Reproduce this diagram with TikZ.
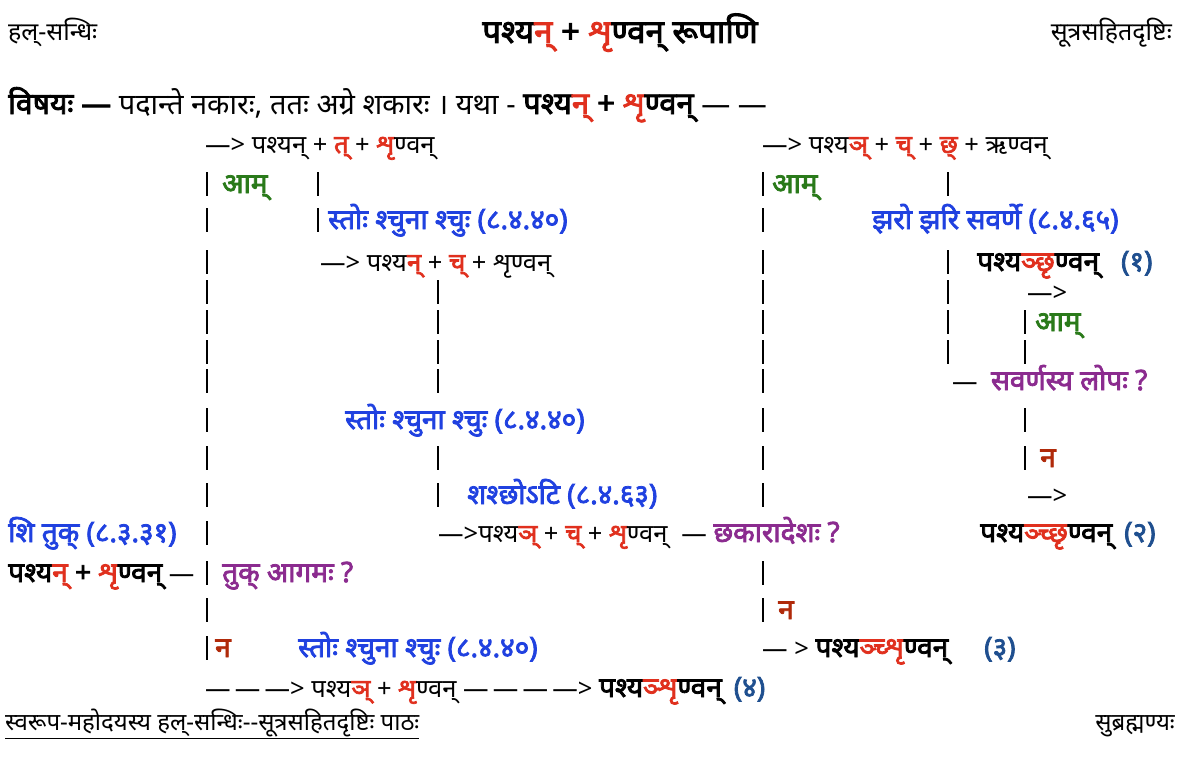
\documentclass[tikz,border=0pt]{standalone}
\usepackage{fontspec}
\setmainfont{Noto Sans}[Script=Devanagari, BoldFont={Noto Sans}, BoldFeatures={FakeBold=2.8}]
\definecolor{cR}{HTML}{E0301E}
\definecolor{cB}{HTML}{2041E0}
\definecolor{cG}{HTML}{2A7A1A}
\definecolor{cP}{HTML}{8B2B8F}
\definecolor{cN}{HTML}{1F4F8F}
\definecolor{cD}{HTML}{B02A0A}
\newcommand\bz{\fontsize{28}{32}\selectfont\bfseries}
\newcommand\rd[1]{\textcolor{cR}{\bfseries #1}}
\newcommand\blu[1]{{\bz\color{cB}#1}}
\newcommand\grn[1]{{\bz\color{cG}#1}}
\newcommand\pur[1]{{\bz\color{cP}#1}}
\newcommand\nmb[1]{{\bz\color{cN}#1}}
\newcommand\dna{{\bz\color{cD}न}}
\tikzset{
  txt/.style={anchor=base west, inner sep=0pt, font=\fontsize{25.5}{30}\selectfont},
  txtr/.style={anchor=base east, inner sep=0pt, font=\fontsize{25}{30}\selectfont},
  bar/.style={line width=1.2pt, black}
}
\begin{document}
\begin{tikzpicture}[x=1pt,y=-1pt]
\useasboundingbox (0,0) rectangle (1182,757);
% header
\node[anchor=base west, inner sep=0pt, font=\fontsize{25}{30}\selectfont] (h1) at (8,41) {हल्-सन्धिः};
\node[anchor=base, inner sep=0pt, font=\fontsize{33}{38}\selectfont\bfseries] (title) at (620,43) {पश्य\textcolor{cR}{न्} + \textcolor{cR}{शृ}ण्वन् रूपाणि};
\node[txtr] (h2) at (1172,41) {सूत्रसहितदृष्टिः};
% row 1
\node[anchor=base west, inner sep=0pt, font=\fontsize{29}{34}\selectfont] (r1) at (8,114) {{\fontsize{30}{34}\selectfont\bfseries विषयः —} पदान्ते नकारः, ततः अग्रे शकारः । यथा - {\fontsize{31}{34}\selectfont\bfseries पश्य\textcolor{cR}{न्} + \textcolor{cR}{शृ}ण्वन्} — —};
% row 2
\node[txt] (a1) at (205,153) {—> पश्यन् + \rd{त्} + \rd{शृ}ण्वन्};
\node[txt] (b1) at (762,153) {—> पश्य\rd{ञ्} + \rd{च्} + \rd{छ्} + ऋण्वन्};
% row 3
\node[txt] (am1) at (222,193) {\grn{आम्}};
\node[txt] (am2) at (772,193) {\grn{आम्}};
% row 4
\node[txt] (s1) at (328,229) {\blu{स्तोः श्चुना श्चुः (८.४.४०)}};
\node[txt] (s2) at (872,229) {\blu{झरो झरि सवर्णे (८.४.६५)}};
% row 5
\node[txt] (a2) at (320,271) {—> पश्य\rd{न्} + \rd{च्} + शृण्वन्};
\node[txt] (f1) at (977,271) {{\bz पश्य\textcolor{cR}{ञ्छृ}ण्वन्}\hspace{22pt}\nmb{(१)}};
% row 6
\node[txt] (ar1) at (1027,301) {—>};
% row 7
\node[txt] (am3) at (1035,331) {\grn{आम्}};
% row 9
\node[txt] (lp) at (952,390) {— \ \pur{सवर्णस्य लोपः ?}};
% row 10
\node[txt] (s3) at (345,429) {\blu{स्तोः श्चुना श्चुः (८.४.४०)}};
% row 11
\node[txt] (n1) at (1040,467) {\dna};
% row 12
\node[txt] (s4) at (467,504) {\blu{शश्छोऽटि (८.४.६३)}};
\node[txt] (ar2) at (1027,504) {—>};
% row 13
\node[txt] (s5) at (8,542) {\blu{शि तुक् (८.३.३१)}};
\node[txt] (a3) at (438,542) {—>पश्य\rd{ञ्} + \rd{च्} + \rd{शृ}ण्वन्\hspace{14pt}— \pur{छकारादेशः ?}};
\node[txt] (f2) at (980,542) {{\bz पश्य\textcolor{cR}{ञ्च्छृ}ण्वन्}\hspace{12pt}\nmb{(२)}};
% row 14
\node[txt] (st) at (8,582) {{\bz पश्य\textcolor{cR}{न्} + \textcolor{cR}{शृ}ण्वन्} —};
\node[txt] (tk) at (222,582) {\pur{तुक् आगमः ?}};
% row 15
\node[txt] (n2) at (778,619) {\dna};
% row 16
\node[txt] (n3) at (215,657) {\dna};
\node[txt] (s6) at (298,657) {\blu{स्तोः श्चुना श्चुः (८.४.४०)}};
\node[txt] (f3) at (762,657) {— > {\bz पश्य\textcolor{cR}{ञ्च्शृ}ण्वन्}\hspace{36pt}\nmb{(३)}};
% row 17
\node[txt] (f4) at (205,697) {—\,—\,—> पश्य\rd{ञ्} + \rd{शृ}ण्वन् —\,—\,—\,—> {\bz पश्य\textcolor{cR}{ञ्शृ}ण्वन्}\hspace{12pt}\nmb{(४)}};
% footer
\node[anchor=base west, inner sep=0pt, font=\fontsize{24}{28}\selectfont] (ft1) at (5,730) {\underline{स्वरूप-महोदयस्य हल्-सन्धिः-{}-सूत्रसहितदृष्टिः पाठः}};
\node[anchor=base east, inner sep=0pt, font=\fontsize{24}{28}\selectfont] (ft2) at (1175,730) {सुब्रह्मण्यः};
% bars
\foreach \y in {184,220,262,292,322,352,381,420,458,495,533,573,610,648}
  \draw[bar] (207,\y-12) -- (207,\y+12);
\foreach \y in {184,220}
  \draw[bar] (318,\y-12) -- (318,\y+12);
\foreach \y in {292,322,352,381,458,495}
  \draw[bar] (438,\y-12) -- (438,\y+12);
\foreach \y in {184,220,262,292,322,352,381,420,458,495,573,610}
  \draw[bar] (763,\y-12) -- (763,\y+12);
\foreach \y in {184,262,292,322,352}
  \draw[bar] (948,\y-12) -- (948,\y+12);
\foreach \y in {322,352,420,458}
  \draw[bar] (1025,\y-12) -- (1025,\y+12);
\end{tikzpicture}
\end{document}
